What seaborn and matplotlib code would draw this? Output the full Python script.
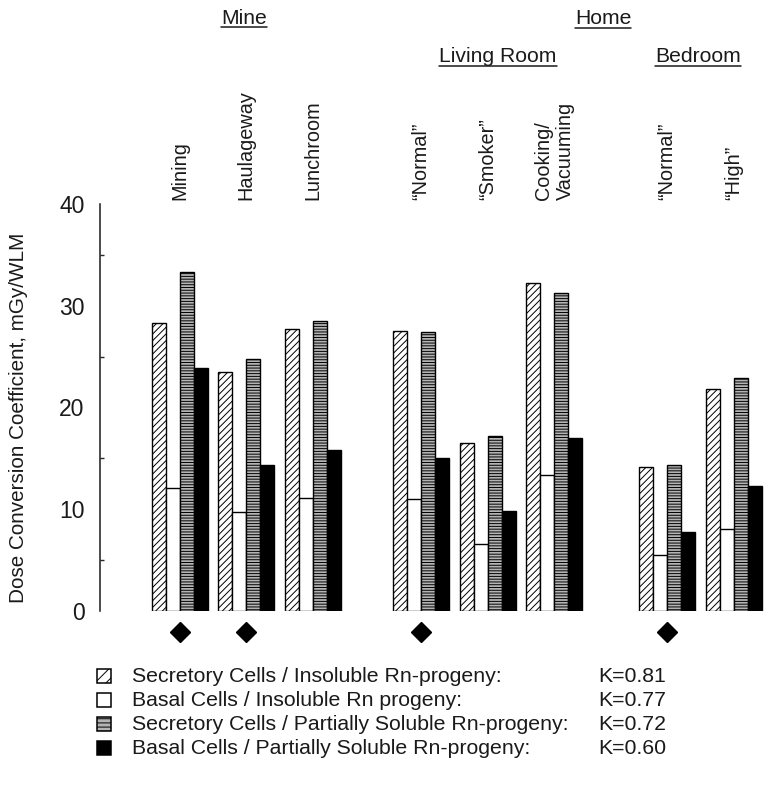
import numpy as np
import pandas as pd
import matplotlib
matplotlib.use("Agg")
import matplotlib.pyplot as plt
import seaborn as sns
from matplotlib.patches import Rectangle
from matplotlib.lines import Line2D

# ---- data -----------------------------------------------------------------
locations = ["Mining", "Haulageway", "Lunchroom",
             "\u201cNormal\u201d", "\u201cSmoker\u201d", "Cooking/\nVacuuming",
             "\u201cNormal\u201d", "\u201cHigh\u201d"]
section = [0, 0, 0, 1, 1, 1, 2, 2]          # Mine / Living Room / Bedroom
flagged = [True, True, False, True, False, False, True, False]

series_names = ["Secretory Cells / Insoluble Rn-progeny:",
                "Basal Cells / Insoluble Rn progeny:",
                "Secretory Cells / Partially Soluble Rn-progeny:",
                "Basal Cells / Partially Soluble Rn-progeny:"]
k_values = [0.81, 0.77, 0.72, 0.60]

secretory_insoluble = [28.3, 23.5, 27.7, 27.5, 16.5, 32.2, 14.2, 21.8]
basal_insoluble     = [12.1, 9.7, 11.1, 11.0, 6.6, 13.4, 5.5, 8.1]
secretory_partial   = [33.3, 24.8, 28.5, 27.4, 17.2, 31.3, 14.3, 22.9]
basal_partial       = [23.9, 14.3, 15.8, 15.0, 9.8, 17.0, 7.8, 12.3]

yticks = [0, 10, 20, 30, 40]

# ---- layout ---------------------------------------------------------------
section_shift = [0.0, 0.63, 1.33]
xpos = [i + section_shift[s] for i, s in enumerate(section)]

values = [secretory_insoluble, basal_insoluble, secretory_partial, basal_partial]
df = pd.DataFrame({
    "pos": np.tile(xpos, len(series_names)),
    "value": np.concatenate(values),
    "series": np.repeat(series_names, len(xpos)),
})

sns.set_style("white")
plt.rcParams["font.family"] = ["Liberation Sans", "DejaVu Sans"]
plt.rcParams["hatch.linewidth"] = 0.7
TXT = "#1a1a1a"

W, H = 767, 787
fig = plt.figure(figsize=(W / 100, H / 100), dpi=100)
ax = fig.add_axes([100 / W, 1 - 611 / H, 667 / W, 407 / H])

faces = ["white", "white", "#b4b4b4", "black"]
hatches = ["/////", "", "------", ""]

sns.barplot(data=df, x="pos", y="value", hue="series", hue_order=series_names,
            native_scale=True, width=0.84, dodge=True, errorbar=None,
            palette=faces, saturation=1, legend=False, ax=ax,
            edgecolor="black", linewidth=1.0)

for cont, fc, h in zip(ax.containers, faces, hatches):
    for bar in cont:
        bar.set_facecolor(fc)
        bar.set_edgecolor("black")
        bar.set_hatch(h)

ax.set_xlim(-1.2, 8.83)
ax.set_ylim(0, 40)
ax.set_yticks(yticks)
ax.set_yticks([5, 15, 25, 35], minor=True)
ax.tick_params(axis="y", which="major", direction="in", length=5, width=1,
               labelsize=16.5, pad=11, colors=TXT)
ax.tick_params(axis="y", which="minor", direction="in", length=3, width=1, left=True)
ax.set_xticks([])
ax.set_xlabel("")
for side in ["top", "right", "bottom"]:
    ax.spines[side].set_visible(False)
ax.spines["left"].set_color(TXT)
ax.spines["left"].set_linewidth(1.1)

ax.set_ylabel("Dose Conversion Coefficient, mGy/WLM", fontsize=14.9, color=TXT)
ax.yaxis.set_label_coords(-0.108, 0.474)

# location labels above the bar groups
for x, name in zip(xpos, locations):
    ax.text(x, 40.4, name, rotation=90, ha="center", va="bottom",
            multialignment="left", fontsize=14.3, color=TXT, clip_on=False)

# markers below selected groups
mx = [x for x, f in zip(xpos, flagged) if f]
ax.plot(mx, [-2.1] * len(mx), "D", color="black", markersize=10.5,
        clip_on=False, linestyle="none")

# section headers (underlined)
headers = [("Mine", 244, 18), ("Home", 603, 19),
           ("Living Room", 498, 57), ("Bedroom", 698, 57)]
header_texts = []
for label, px, py in headers:
    t = fig.text(px / W, 1 - py / H, label, ha="center", va="center",
                 fontsize=15.2, color=TXT)
    header_texts.append(t)

# legend
rows = [676, 700, 724, 748]
for y, name, fc, h, k in zip(rows, series_names, faces, hatches, k_values):
    rect = Rectangle((97 / W, 1 - (y + 7) / H), 14 / W, 14 / H,
                     transform=fig.transFigure, facecolor=fc, edgecolor="black",
                     hatch=h.replace("/////", "///").replace("------", "----"),
                     linewidth=1.1)
    fig.add_artist(rect)
    fig.text(132 / W, 1 - y / H, name, ha="left", va="center",
             fontsize=15.3, color=TXT)
    fig.text(598 / W, 1 - y / H, f"K={k:.2f}", ha="left", va="center",
             fontsize=15.3, color=TXT)

fig.canvas.draw()
inv = fig.transFigure.inverted()
for t in header_texts:
    bb = t.get_window_extent()
    (x0, y0), (x1, _) = inv.transform([[bb.x0, bb.y0], [bb.x1, bb.y0]])
    fig.add_artist(Line2D([x0, x1], [y0 + 0.001, y0 + 0.001],
                          transform=fig.transFigure, color=TXT, linewidth=1.1))

fig.savefig("out.png", dpi=100, facecolor="white")
